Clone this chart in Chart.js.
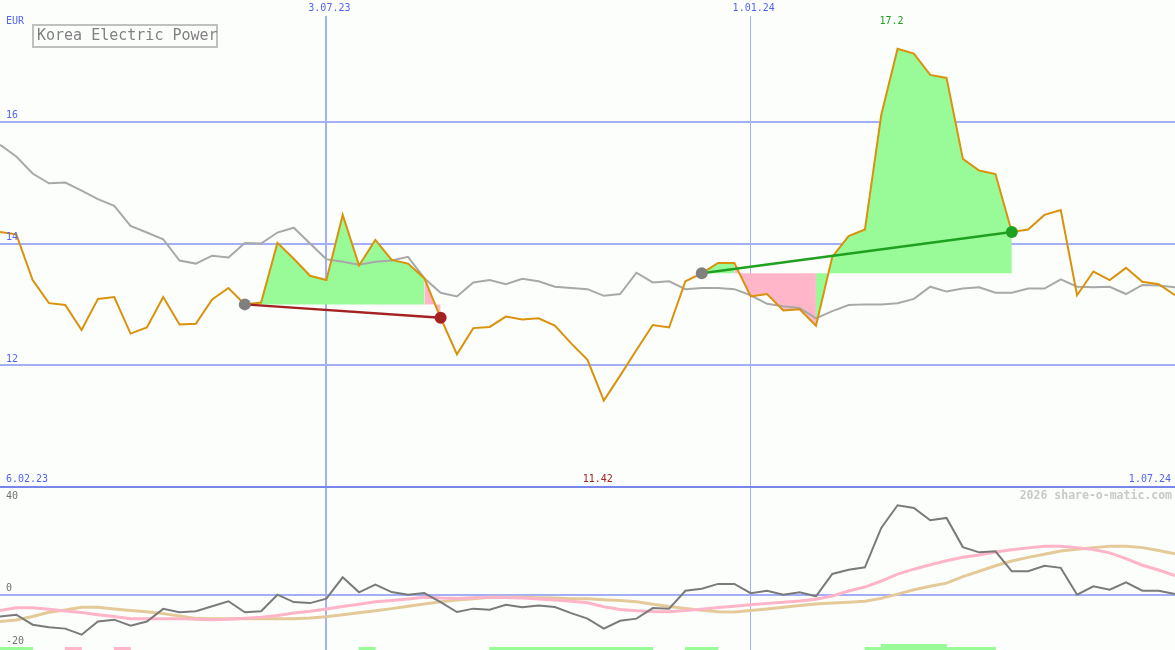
<!DOCTYPE html>
<html>
<head>
<meta charset="utf-8">
<script src="https://cdn.jsdelivr.net/npm/chart.js@4.4.1/dist/chart.umd.min.js"></script>
<style>
  html, body { margin: 0; padding: 0; background: #FCFEFC; }
  #wrap { position: relative; width: 1175px; height: 650px; background: #FCFEFC; overflow: hidden; }
  #top { position: absolute; left: 0; top: 0; }
  #bot { position: absolute; left: 0; top: 488px; }
  #sep { position: absolute; left: 0; top: 486px; width: 1175px; height: 2px; background: #7886EC; }
</style>
</head>
<body>
<div id="wrap">
  <canvas id="top" width="1175" height="487"></canvas>
  <canvas id="bot" width="1175" height="162"></canvas>
  <div id="sep"></div>
</div>
<script>
// ---------------- data ----------------
const chartTitle = 'Korea Electric Power';
const unitLabel = 'EUR';
const watermark = '2026 share-o-matic.com';

// date labels and the week index where each one sits
const dateLabels = ['6.02.23', '3.07.23', '1.01.24', '1.07.24'];
const dateIdx = [0, 20, 46, 72];

// weekly closing price (EUR)
const price = [
  14.19, 14.15, 13.40, 13.02, 12.99, 12.58, 13.09, 13.12, 12.52, 12.62,
  13.12, 12.67, 12.68, 13.08, 13.27, 13.00, 13.03, 14.01, 13.75, 13.47,
  13.40, 14.47, 13.64, 14.06, 13.73, 13.67, 13.43, 12.78, 12.18, 12.61,
  12.63, 12.80, 12.75, 12.77, 12.65, 12.36, 12.09, 11.42, 11.83, 12.25,
  12.66, 12.62, 13.38, 13.51, 13.68, 13.68, 13.13, 13.17, 12.90, 12.92,
  12.65, 13.78, 14.12, 14.23, 16.11, 17.20, 17.12, 16.77, 16.72, 15.39,
  15.20, 15.14, 14.19, 14.23, 14.47, 14.55, 13.15, 13.54, 13.40, 13.60,
  13.37, 13.33, 13.15
];

// moving average (grey line)
const movingAvg = [
  15.62, 15.43, 15.15, 14.99, 15.00, 14.87, 14.73, 14.62, 14.29, 14.18,
  14.07, 13.72, 13.67, 13.80, 13.77, 14.01, 14.00, 14.18, 14.26, 14.00,
  13.74, 13.70, 13.65, 13.70, 13.72, 13.78, 13.43, 13.19, 13.13, 13.36,
  13.40, 13.33, 13.42, 13.38, 13.29, 13.27, 13.25, 13.14, 13.17, 13.52,
  13.36, 13.38, 13.25, 13.27, 13.27, 13.25, 13.15, 13.01, 12.97, 12.94,
  12.77, 12.89, 12.99, 13.00, 13.00, 13.02, 13.09, 13.29, 13.21, 13.26,
  13.28, 13.19, 13.19, 13.26, 13.26, 13.41, 13.29, 13.28, 13.29, 13.17,
  13.32, 13.31, 13.28
];

// trades: entry and exit week index
const tradeEntry = [15, 43];
const tradeExit = [27, 62];

// price axis labels
const priceTicks = [12, 14, 16];

// lower panel: oscillator (dark grey), signal lines (pink, tan)
const oscMain = [
  -8.3, -7.6, -11.4, -12.4, -12.9, -15.2, -10.2, -9.5, -11.8, -10.2,
  -5.4, -6.7, -6.3, -4.4, -2.5, -6.7, -6.3, 0.0, -2.8, -3.2,
  -1.5, 6.6, 0.9, 3.8, 1.0, 0.0, 0.6, -2.8, -6.6, -5.3,
  -5.7, -3.8, -4.8, -4.1, -4.7, -7.0, -9.1, -12.9, -9.9, -9.1,
  -5.1, -5.3, 1.5, 2.3, 4.1, 4.1, 0.6, 1.5, 0.0, 0.9,
  -0.6, 7.9, 9.5, 10.4, 25.4, 34.0, 33.0, 28.3, 29.2, 18.1,
  16.1, 16.5, 8.9, 8.9, 11.0, 10.2, 0.0, 3.2, 1.9, 4.7,
  1.5, 1.5, 0.3
];
const oscPink = [
  -6.0, -5.0, -5.0, -5.5, -6.2, -6.8, -7.6, -8.3, -9.1, -9.1,
  -9.1, -9.1, -9.3, -9.5, -9.3, -9.0, -8.6, -7.9, -7.0, -6.3,
  -5.4, -4.5, -3.6, -2.7, -2.2, -1.6, -1.0, -1.3, -1.4, -1.2,
  -1.0, -1.1, -1.3, -1.6, -2.0, -2.5, -3.1, -4.6, -5.6, -6.1,
  -6.4, -6.5, -6.0, -5.5, -4.9, -4.4, -3.8, -3.3, -2.9, -2.4,
  -1.7, -0.5, 1.4, 2.9, 5.2, 7.8, 9.7, 11.4, 12.9, 14.2,
  15.1, 16.2, 17.1, 17.8, 18.4, 18.4, 17.9, 17.2, 15.9, 13.7,
  11.2, 9.4, 7.3
];
const oscTan = [
  -10.2, -9.6, -8.3, -6.7, -5.8, -4.8, -4.8, -5.4, -6.0, -6.5,
  -7.2, -8.1, -9.0, -9.1, -9.1, -9.1, -9.1, -9.1, -9.1, -8.9,
  -8.4, -7.6, -6.9, -6.1, -5.3, -4.4, -3.5, -2.7, -2.0, -1.5,
  -1.0, -1.0, -1.0, -1.2, -1.3, -1.5, -1.5, -1.9, -2.2, -2.7,
  -3.6, -4.5, -5.2, -5.9, -6.5, -6.6, -6.0, -5.4, -4.8, -4.1,
  -3.5, -3.2, -2.9, -2.5, -1.4, 0.2, 1.9, 3.2, 4.4, 6.9,
  8.9, 11.0, 12.8, 14.2, 15.4, 16.6, 17.3, 17.9, 18.4, 18.4,
  17.9, 16.8, 15.6
];
const oscTicks = [40, 0, -20];

// weekly signal strip: 0 none, 1 buy, 2 strong buy, -1 sell (one per week interval)
const signal = [
  1, 1, 0, 0, -1, 0, 0, -1, 0, 0,
  0, 0, 0, 0, 0, 0, 0, 0, 0, 0,
  0, 0, 1, 0, 0, 0, 0, 0, 0, 0,
  1, 1, 1, 1, 1, 1, 1, 1, 1, 1,
  0, 0, 1, 1, 0, 0, 0, 0, 0, 0,
  0, 0, 0, 1, 2, 2, 2, 2, 1, 1,
  1, 0, 0, 0, 0, 0, 0, 0, 0, 0,
  0, 0
];

// ---------------- styles ----------------
const BG = '#FCFEFC';
const BLUE_TXT = '#5464F0';
const GRID = '#A4B0F4';
const ORANGE = '#D9920C';
const GREY_MA = '#A8A8A8';
const FILL_GREEN = '#98FB98';
const FILL_PINK = '#FFB6C8';
const WIN = '#20A020';
const LOSS = '#A52222';
const ENTRY_DOT = '#808080';
const MONO = '"DejaVu Sans Mono", monospace';

const lastIdx = price.length - 1;
const toXY = arr => arr.map((v, i) => ({ x: i, y: v }));
const spanXY = (arr, a, b) => arr.map((v, i) => ({ x: i, y: (i >= a && i <= b) ? v : null }));

const xGrid = {
  drawTicks: false,
  color: GRID,
  lineWidth: c => (c.tick && c.tick.value === dateIdx[2]) ? 1 : 2
};
const innerDates = dateIdx.slice(1, -1);

// ---------------- upper chart ----------------
const upperDatasets = [];
tradeEntry.forEach((e, k) => {
  const x = tradeExit[k];
  const level = price[e];
  upperDatasets.push({
    type: 'line',
    data: spanXY(price, e, x),
    borderColor: 'rgba(0,0,0,0)',
    borderWidth: 0,
    pointRadius: 0,
    backgroundColor: FILL_GREEN,
    fill: { value: level },
    segment: {
      backgroundColor: c => (c.p1.parsed.y >= level ? FILL_GREEN : FILL_PINK)
    },
    order: 10
  });
});
upperDatasets.push({
  type: 'line', data: toXY(movingAvg), borderColor: GREY_MA, borderWidth: 2,
  pointRadius: 0, fill: false, order: 5
});
upperDatasets.push({
  type: 'line', data: toXY(price), borderColor: ORANGE, borderWidth: 2,
  pointRadius: 0, fill: false, order: 3
});
tradeEntry.forEach((e, k) => {
  const x = tradeExit[k];
  const col = price[x] >= price[e] ? WIN : LOSS;
  upperDatasets.push({
    type: 'line',
    data: [{ x: e, y: price[e] }, { x: x, y: price[x] }],
    borderColor: col, borderWidth: 2.5,
    pointRadius: 6, pointBorderWidth: 0,
    pointBackgroundColor: [ENTRY_DOT, col],
    fill: false, order: 1
  });
});

const upperText = {
  id: 'upperText',
  afterDraw(chart) {
    const ctx = chart.ctx, xs = chart.scales.x, ys = chart.scales.y;
    ctx.save();
    ctx.font = '10px ' + MONO;
    ctx.textBaseline = 'middle';
    ctx.fillStyle = BLUE_TXT;
    ctx.textAlign = 'left';
    ctx.fillText(unitLabel, 6, 21);
    priceTicks.forEach(v => ctx.fillText(String(v), 6, ys.getPixelForValue(v) - 6));
    ctx.fillText(dateLabels[0], 6, 479);
    ctx.textAlign = 'right';
    ctx.fillText(dateLabels[dateLabels.length - 1], 1171, 479);
    // max / min labels
    const maxV = Math.max(...price), minV = Math.min(...price);
    const maxI = price.indexOf(maxV), minI = price.indexOf(minV);
    ctx.textAlign = 'center';
    ctx.fillStyle = WIN;
    ctx.fillText(String(maxV), xs.getPixelForValue(maxI) - 6, 21);
    ctx.fillStyle = LOSS;
    ctx.fillText(String(minV), xs.getPixelForValue(minI) - 6, 479);
    // title box
    ctx.fillStyle = BG;
    ctx.fillRect(33, 25, 184, 22);
    ctx.lineWidth = 2;
    ctx.strokeStyle = '#C0C0C0';
    ctx.strokeRect(33, 25, 184, 22);
    ctx.font = '15px ' + MONO;
    ctx.fillStyle = '#808080';
    ctx.textAlign = 'left';
    ctx.fillText(chartTitle, 37, 36.5);
    ctx.restore();
  }
};

new Chart(document.getElementById('top'), {
  type: 'line',
  data: { datasets: upperDatasets },
  options: {
    responsive: false, animation: false,
    layout: { padding: 0, autoPadding: false },
    plugins: { legend: { display: false }, tooltip: { enabled: false } },
    elements: { line: { tension: 0 }, point: { radius: 0 } },
    scales: {
      x: {
        type: 'linear', position: 'top', min: 0, max: lastIdx, offset: false,
        afterBuildTicks: s => { s.ticks = innerDates.map(v => ({ value: v })); },
        ticks: {
          padding: 0, labelOffset: 3, color: BLUE_TXT, maxRotation: 0, autoSkip: false,
          font: { family: MONO, size: 10, lineHeight: 1.6 },
          callback: v => dateLabels[dateIdx.indexOf(v)]
        },
        grid: xGrid,
        border: { display: false }
      },
      y: {
        type: 'linear', min: 10, max: 18 - 16 / 60.875,
        afterBuildTicks: s => { s.ticks = priceTicks.map(v => ({ value: v })); },
        ticks: { display: false },
        grid: { drawTicks: false, color: GRID, lineWidth: 2 },
        border: { display: false }
      }
    }
  },
  plugins: [upperText]
});

// ---------------- lower chart ----------------
const lowMin = -21.03, lowMax = 40.57;
const sigTop = { 1: -20.0, 2: -18.86, '-1': -20.0 };

const lowerText = {
  id: 'lowerText',
  afterDraw(chart) {
    const ctx = chart.ctx, ys = chart.scales.y;
    ctx.save();
    ctx.font = '10px ' + MONO;
    ctx.textBaseline = 'middle';
    ctx.textAlign = 'left';
    ctx.fillStyle = '#707070';
    oscTicks.forEach(v => ctx.fillText(String(v), 6, Math.max(8, ys.getPixelForValue(v) - 6)));
    ctx.font = 'bold 11.5px ' + MONO;
    ctx.fillStyle = '#C8C8C8';
    ctx.textAlign = 'right';
    ctx.fillText(watermark, 1172, 8);
    ctx.restore();
  }
};

new Chart(document.getElementById('bot'), {
  type: 'line',
  data: {
    datasets: [
      {
        type: 'line', data: toXY(oscMain), borderColor: '#7A7A7A', borderWidth: 2,
        pointRadius: 0, fill: false, order: 1
      },
      {
        type: 'line', data: toXY(oscPink), borderColor: '#FFB4C8', borderWidth: 3,
        pointRadius: 0, fill: false, order: 2
      },
      {
        type: 'line', data: toXY(oscTan), borderColor: '#E4CA98', borderWidth: 3,
        pointRadius: 0, fill: false, order: 3
      },
      {
        type: 'bar',
        data: signal.map((s, i) => ({ x: i + 0.5, y: s === 0 ? null : [lowMin, sigTop[s]] })),
        backgroundColor: c => (signal[c.dataIndex] < 0 ? FILL_PINK : FILL_GREEN),
        borderWidth: 0, barPercentage: 1, categoryPercentage: 1, grouped: false,
        order: 4
      }
    ]
  },
  options: {
    responsive: false, animation: false,
    layout: { padding: 0, autoPadding: false },
    plugins: { legend: { display: false }, tooltip: { enabled: false } },
    elements: { line: { tension: 0 }, point: { radius: 0 } },
    scales: {
      x: {
        type: 'linear', min: 0, max: lastIdx, offset: false,
        afterBuildTicks: s => { s.ticks = innerDates.map(v => ({ value: v })); },
        ticks: { display: false },
        grid: Object.assign({ offset: false }, xGrid),
        border: { display: false }
      },
      y: {
        type: 'linear', min: lowMin, max: lowMax,
        afterBuildTicks: s => { s.ticks = [{ value: 0 }]; },
        ticks: { display: false },
        grid: { drawTicks: false, color: GRID, lineWidth: 2 },
        border: { display: false }
      }
    }
  },
  plugins: [lowerText]
});
</script>
</body>
</html>
